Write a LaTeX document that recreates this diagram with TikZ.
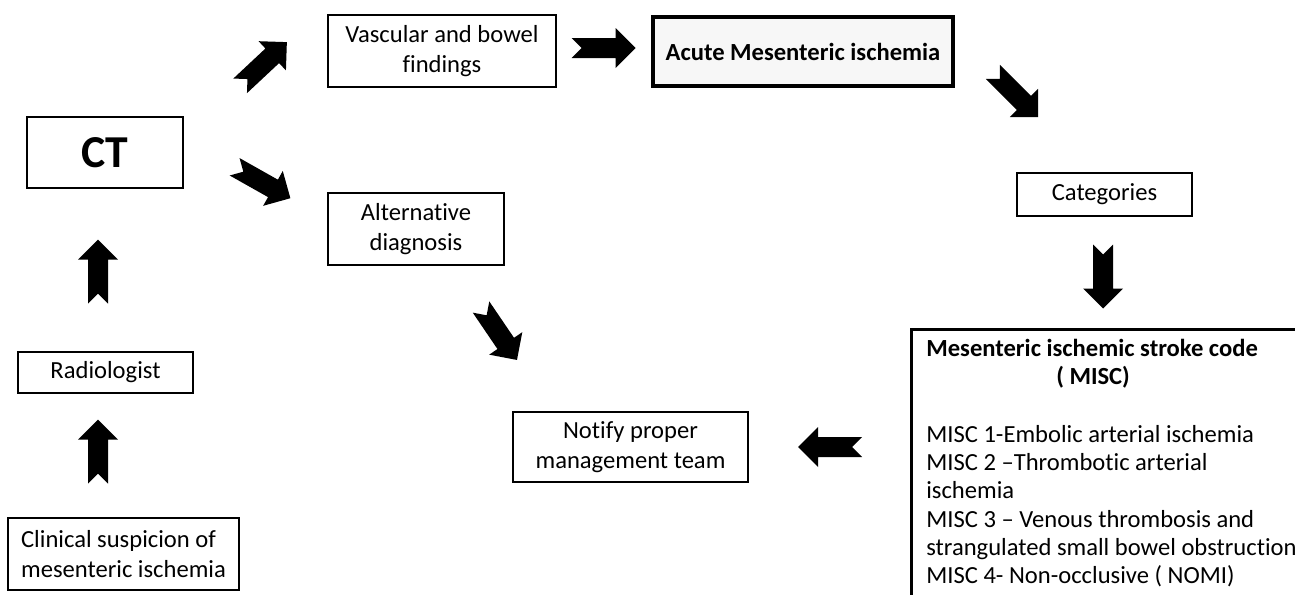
\documentclass[tikz,border=0pt]{standalone}
\usepackage{fontspec}
\setmainfont[Ligatures=NoCommon]{Carlito}
\tikzset{
  box/.style={draw, line width=1.1pt, fill=white, align=center,
    inner sep=0pt, font=\fontsize{14}{17}\selectfont},
  blockarrow/.pic={
    \fill (-32,10) -- (12,10) -- (12,20) -- (32,0) -- (12,-20)
      -- (12,-10) -- (-32,-10) -- (-22,0) -- cycle;
  },
  flow/.style={pos=0.5, sloped, allow upside down}
}
\begin{document}
\begin{tikzpicture}[x=0.02cm, y=-0.02cm]
  \useasboundingbox (0,0) rectangle (1295,595);
  \clip (0,0) rectangle (1295,595);

  % --- colonna sinistra ---
  \node[box, minimum width=3.12cm, minimum height=1.42cm,
    font=\bfseries\fontsize{26}{30}\selectfont] (ct) at (105,152.5) {CT};
  \node[box, minimum width=3.5cm, minimum height=0.82cm] (radio) at (105.5,372.5)
    {Radiologist};
  \node[box, align=left, minimum width=4.62cm, minimum height=1.44cm] (clin)
    at (123.5,554) {Clinical suspicion of\\mesenteric ischemia};

  % --- centro ---
  \node[box, minimum width=4.56cm, minimum height=1.44cm] (vasc) at (442,51)
    {Vascular and bowel\\findings};
  \node[box, minimum width=3.52cm, minimum height=1.44cm] (alt) at (416,229)
    {Alternative\\diagnosis};
  \node[box, minimum width=4.7cm, minimum height=1.4cm] (notify) at (630.5,447)
    {Notify proper\\management team};
  \node[box, line width=2pt, fill=black!3, minimum width=6cm, minimum height=1.38cm,
    font=\bfseries\fontsize{14}{16}\selectfont] (acute) at (803,51.5)
    {Acute Mesenteric ischemia};

  % --- destra ---
  \node[box, line width=1.5pt, align=left, anchor=north west, inner xsep=0.3cm,
    inner ysep=0.2cm, text depth=6cm, font=\fontsize{14}{16}\selectfont] (misc)
    at (910,328)
    {\textbf{Mesenteric ischemic stroke code}\\
     \hspace*{2.6cm}\textbf{( MISC)}\\[17pt]
     MISC 1-Embolic arterial ischemia\\
     MISC 2 --Thrombotic arterial\\
     ischemia\\
     MISC 3 -- Venous thrombosis and\\
     strangulated small bowel obstruction\\
     MISC 4- Non-occlusive ( NOMI)};
  \node[box, minimum width=3.5cm, minimum height=0.86cm] (cat) at (1104.5,194.5)
    {Categories};

  % --- frecce ---
  \coordinate (t1) at (98,483);   \coordinate (h1) at (98,420);   % clin -> radio
  \coordinate (t2) at (98,303);   \coordinate (h2) at (98,240);   % radio -> ct
  \coordinate (t3) at (240,86);   \coordinate (h3) at (287,42);   % ct -> vasc
  \coordinate (t4) at (235,167);  \coordinate (h4) at (290,198);  % ct -> alt
  \coordinate (t5) at (572,48);   \coordinate (h5) at (635,48);   % vasc -> acute
  \coordinate (t6) at (993,72);   \coordinate (h6) at (1038,117); % acute -> cat
  \coordinate (t7) at (1103,245); \coordinate (h7) at (1103,308); % cat -> misc
  \coordinate (t8) at (481,307);  \coordinate (h8) at (517,360);  % alt -> notify
  \coordinate (t9) at (862,447);  \coordinate (h9) at (798,447);  % misc -> notify
  \foreach \i in {1,...,9}
    \path (t\i) -- (h\i) pic[flow] {blockarrow};
\end{tikzpicture}
\end{document}
